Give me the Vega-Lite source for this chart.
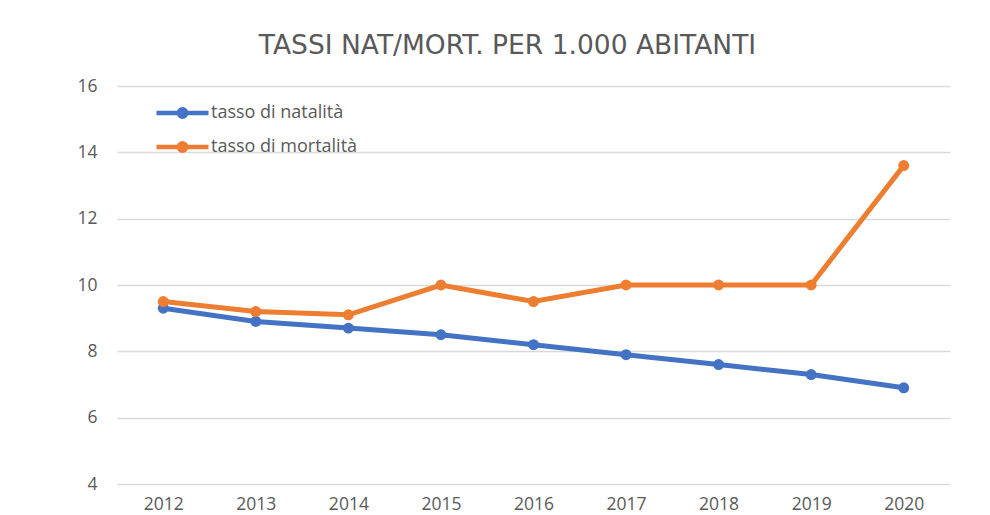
{
  "$schema": "https://vega.github.io/schema/vega-lite/v6.json",
  "width": 833,
  "height": 398,
  "autosize": {"type": "none"},
  "padding": {"left": 117, "top": 86, "right": 40, "bottom": 31},
  "background": "white",
  "title": {
    "text": "TASSI NAT/MORT. PER 1.000 ABITANTI",
    "font": "DejaVu Sans",
    "fontSize": 26.5,
    "fontWeight": "normal",
    "color": "#595959",
    "anchor": "middle",
    "dx": -26,
    "offset": 18
  },
  "data": {
    "values": [
      {"anno": "2012", "serie": "tasso di natalità", "valore": 9.3},
      {"anno": "2013", "serie": "tasso di natalità", "valore": 8.9},
      {"anno": "2014", "serie": "tasso di natalità", "valore": 8.7},
      {"anno": "2015", "serie": "tasso di natalità", "valore": 8.5},
      {"anno": "2016", "serie": "tasso di natalità", "valore": 8.2},
      {"anno": "2017", "serie": "tasso di natalità", "valore": 7.9},
      {"anno": "2018", "serie": "tasso di natalità", "valore": 7.6},
      {"anno": "2019", "serie": "tasso di natalità", "valore": 7.3},
      {"anno": "2020", "serie": "tasso di natalità", "valore": 6.9},
      {"anno": "2012", "serie": "tasso di mortalità", "valore": 9.5},
      {"anno": "2013", "serie": "tasso di mortalità", "valore": 9.2},
      {"anno": "2014", "serie": "tasso di mortalità", "valore": 9.1},
      {"anno": "2015", "serie": "tasso di mortalità", "valore": 10.0},
      {"anno": "2016", "serie": "tasso di mortalità", "valore": 9.5},
      {"anno": "2017", "serie": "tasso di mortalità", "valore": 10.0},
      {"anno": "2018", "serie": "tasso di mortalità", "valore": 10.0},
      {"anno": "2019", "serie": "tasso di mortalità", "valore": 10.0},
      {"anno": "2020", "serie": "tasso di mortalità", "valore": 13.6}
    ]
  },
  "mark": {"type": "line", "strokeWidth": 5, "point": {"filled": true, "size": 120}},
  "encoding": {
    "x": {
      "field": "anno",
      "type": "ordinal",
      "scale": {"type": "point", "padding": 0.5},
      "axis": {
        "title": null,
        "labelAngle": 0,
        "domain": false,
        "ticks": false,
        "grid": false,
        "labelPadding": 11,
        "labelFont": "Open Sans",
        "labelFontSize": 17.5,
        "labelColor": "#595959"
      }
    },
    "y": {
      "field": "valore",
      "type": "quantitative",
      "scale": {"domain": [4, 16], "nice": false, "zero": false},
      "axis": {
        "title": null,
        "values": [4, 6, 8, 10, 12, 14, 16],
        "domain": false,
        "ticks": false,
        "labelPadding": 20,
        "labelFont": "Open Sans",
        "labelFontSize": 17.5,
        "labelColor": "#595959",
        "gridColor": "#d9d9d9",
        "gridWidth": 1.5
      }
    },
    "color": {
      "field": "serie",
      "type": "nominal",
      "sort": ["tasso di natalità", "tasso di mortalità"],
      "scale": {
        "domain": ["tasso di natalità", "tasso di mortalità"],
        "range": ["#4472C4", "#ED7D31"]
      },
      "legend": {
        "title": null,
        "orient": "none",
        "legendX": 37,
        "legendY": 10,
        "padding": 0,
        "symbolType": "M-1,0H1M0.14,0A0.14,0.14 0 1 1 -0.14,0A0.14,0.14 0 1 1 0.14,0Z",
        "symbolSize": 2704,
        "symbolStrokeWidth": 4.5,
        "clipHeight": 34,
        "rowPadding": 0,
        "labelOffset": 0,
        "labelFont": "Open Sans",
        "labelFontSize": 18,
        "labelColor": "#595959",
        "encode": {
          "symbols": {
            "update": {
              "fill": {"scale": "color", "field": "value"},
              "stroke": {"scale": "color", "field": "value"}
            }
          }
        }
      }
    }
  },
  "config": {
    "view": {"stroke": null}
  }
}
